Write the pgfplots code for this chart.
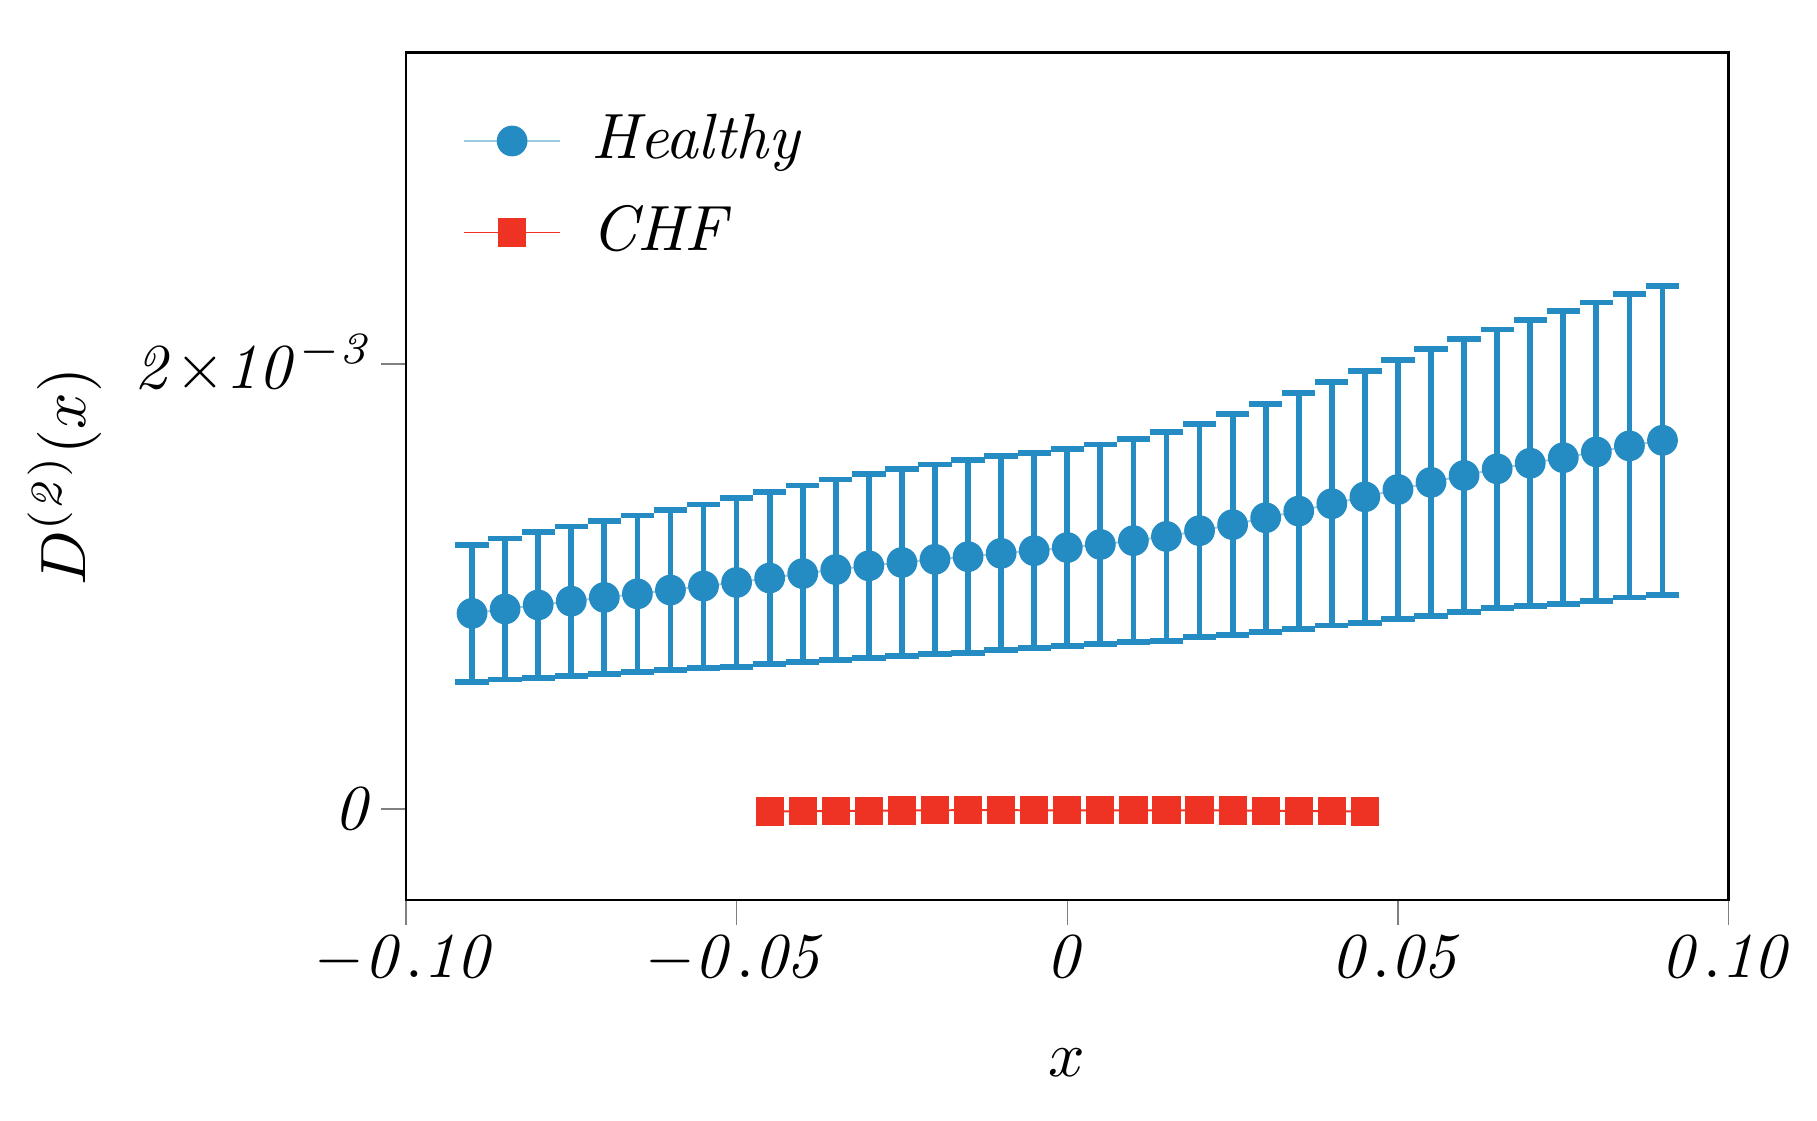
\documentclass[border=0pt]{standalone}
\usepackage{pgfplots}
\pgfplotsset{compat=1.18}
\usepackage{pgfplotstable}
\definecolor{hblue}{HTML}{248BC3}
\definecolor{cred}{HTML}{EE3224}

% x, mean, error (symmetric)
\pgfplotstableread{
x y e
-0.090 0.000879 0.000308
-0.085 0.000899 0.000317
-0.080 0.000917 0.000328
-0.075 0.000934 0.000336
-0.070 0.000951 0.000343
-0.065 0.000967 0.000352
-0.060 0.000984 0.000359
-0.055 0.001002 0.000367
-0.050 0.001018 0.000379
-0.045 0.001038 0.000387
-0.040 0.001058 0.000396
-0.035 0.001076 0.000405
-0.030 0.001093 0.000414
-0.025 0.001108 0.000420
-0.020 0.001122 0.000426
-0.015 0.001134 0.000433
-0.010 0.001149 0.000436
-0.005 0.001161 0.000439
0.000 0.001175 0.000443
0.005 0.001189 0.000449
0.010 0.001206 0.000457
0.015 0.001225 0.000469
0.020 0.001251 0.000479
0.025 0.001278 0.000497
0.030 0.001309 0.000512
0.035 0.001339 0.000531
0.040 0.001372 0.000547
0.045 0.001403 0.000567
0.050 0.001436 0.000583
0.055 0.001468 0.000599
0.060 0.001499 0.000613
0.065 0.001529 0.000626
0.070 0.001554 0.000643
0.075 0.001579 0.000658
0.080 0.001605 0.000671
0.085 0.001632 0.000681
0.090 0.001657 0.000694
}\healthy

\pgfplotstableread{
x y e
-0.045 -0.000011 0.000004
-0.040 -0.000010 0.000004
-0.035 -0.000009 0.000004
-0.030 -0.000008 0.000004
-0.025 -0.000007 0.000004
-0.020 -0.000006 0.000004
-0.015 -0.000005 0.000004
-0.010 -0.000005 0.000004
-0.005 -0.000006 0.000004
0.000 -0.000006 0.000004
0.005 -0.000006 0.000004
0.010 -0.000006 0.000004
0.015 -0.000006 0.000004
0.020 -0.000006 0.000004
0.025 -0.000007 0.000004
0.030 -0.000008 0.000004
0.035 -0.000009 0.000004
0.040 -0.000010 0.000004
0.045 -0.000011 0.000004
}\chf

\begin{document}
\begin{tikzpicture}
\begin{axis}[
    width=206.6pt, height=132.4pt, scale only axis,
    xmin=-0.1, xmax=0.1,
    ymin=-0.00041, ymax=0.0034,
    xtick={-0.1,-0.05,0,0.05,0.1},
    xticklabels={$-\mathit{0.10}$,$-\mathit{0.05}$,$\mathit{0}$,$\mathit{0.05}$,$\mathit{0.10}$},
    ytick={0,0.002},
    yticklabels={$\mathit{0}$,$\mathit{2}{\times}\mathit{10}^{-\mathit{3}}$},
    scaled ticks=false,
    minor tick num=0,
    tick align=outside,
    xtick pos=bottom, ytick pos=left,
    major tick length=3.9pt,
    xticklabel style={yshift=1.8pt},
    yticklabel style={xshift=2.7pt},
    xlabel={$x$},
    ylabel={$D^{(\mathit{2})}(x)$},
    xlabel style={yshift=-3.5pt},
    every axis y label/.style={at={([xshift=-53.3pt]axis description cs:0,0.5)},
        rotate=90, anchor=center},
    legend cell align=left,
    legend style={draw=none, fill=none, at={(axis description cs:0,1)},
        anchor=north west, xshift=5.7pt, yshift=-5.4pt, row sep=1.8pt,
        column sep=2.7pt},
    legend image code/.code={
        \draw[mark repeat=2,mark phase=2] plot coordinates {(0cm,0cm) (0.265cm,0cm) (0.53cm,0cm)};},
]
\addplot[color=hblue!45, line width=0.3pt, mark=*, mark size=2.3pt,
    mark options={fill=hblue, draw=hblue, line width=0.2pt},
    error bars/.cd, y dir=both, y explicit,
    error bar style={color=hblue, line width=0.9pt},
    error mark options={rotate=90, mark size=2.6pt, line width=0.9pt, color=hblue}]
    table[x=x, y=y, y error=e] {\healthy};
\addlegendentry{\textit{Healthy}}

\addplot[color=cred, line width=0.3pt, mark=square*, mark size=2.1pt,
    mark options={fill=cred, draw=cred, line width=0.2pt},
    error bars/.cd, y dir=both, y explicit,
    error bar style={color=cred, line width=0.5pt},
    error mark options={rotate=90, mark size=2.2pt, line width=0.5pt, color=cred}]
    table[x=x, y=y, y error=e] {\chf};
\addlegendentry{\textit{CHF}}
\end{axis}
\pgfresetboundingbox
\path ([shift={(-63.4pt,-34.4pt)}]current axis.south west) rectangle ([shift={(13.8pt,8.2pt)}]current axis.north east);
\end{tikzpicture}
\end{document}
